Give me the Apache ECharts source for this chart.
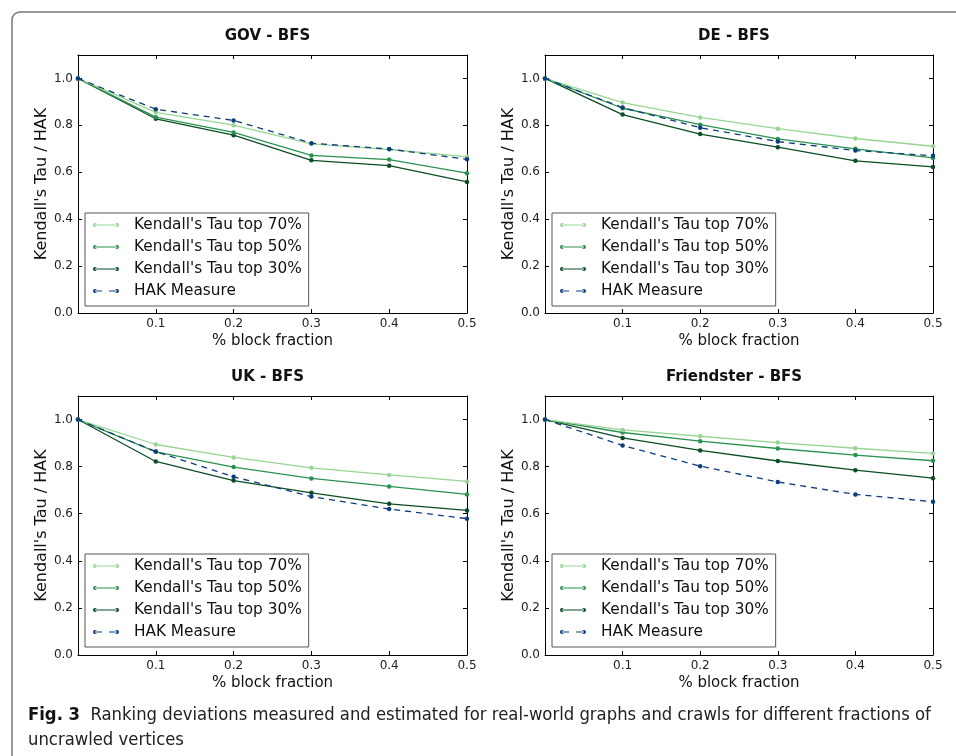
<!DOCTYPE html>
<html><head><meta charset="utf-8">
<script src="https://cdn.jsdelivr.net/npm/echarts@6/dist/echarts.min.js"></script>
<style>html,body{margin:0;padding:0;background:#fff}#c{width:956px;height:756px}</style>
</head><body><div id="c"></div>
<script>
var xs = [0, 0.1, 0.2, 0.3, 0.4, 0.5];
var seriesNames = ["Kendall's Tau top 70%", "Kendall's Tau top 50%", "Kendall's Tau top 30%", "HAK Measure"];
var panelTitles = ["GOV - BFS", "DE - BFS", "UK - BFS", "Friendster - BFS"];
var gov70 = [1, 0.855, 0.801, 0.721, 0.697, 0.666];
var gov50 = [1, 0.835, 0.770, 0.672, 0.654, 0.596];
var gov30 = [1, 0.828, 0.758, 0.651, 0.628, 0.559];
var govHak = [1, 0.869, 0.821, 0.724, 0.699, 0.655];
var de70 = [1, 0.897, 0.834, 0.786, 0.744, 0.711];
var de50 = [1, 0.873, 0.803, 0.742, 0.700, 0.661];
var de30 = [1, 0.846, 0.763, 0.707, 0.649, 0.623];
var deHak = [1, 0.876, 0.790, 0.731, 0.693, 0.670];
var uk70 = [1, 0.894, 0.839, 0.795, 0.765, 0.737];
var uk50 = [1, 0.863, 0.798, 0.750, 0.716, 0.682];
var uk30 = [1, 0.822, 0.741, 0.689, 0.642, 0.614];
var ukHak = [1, 0.864, 0.757, 0.673, 0.620, 0.579];
var fr70 = [1, 0.956, 0.929, 0.902, 0.878, 0.856];
var fr50 = [1, 0.945, 0.908, 0.877, 0.849, 0.825];
var fr30 = [1, 0.922, 0.869, 0.824, 0.785, 0.751];
var frHak = [1, 0.890, 0.802, 0.735, 0.682, 0.651];
var panels = [[gov70, gov50, gov30, govHak], [de70, de50, de30, deHak], [uk70, uk50, uk30, ukHak], [fr70, fr50, fr30, frHak]];

var colors = ['#98d594', '#2a9250', '#0b4d24', '#0c3d7e'];
var font = 'DejaVu Sans';
var grids = [
  {left: 78, top: 55, width: 389, height: 258},
  {left: 545, top: 55, width: 388, height: 258},
  {left: 78, top: 396, width: 389, height: 259},
  {left: 545, top: 396, width: 388, height: 259}
];
var iconSolid = 'path://M0,2a2,2 0 1,0 4,0a2,2 0 1,0 -4,0Z M22,2a2,2 0 1,0 4,0a2,2 0 1,0 -4,0Z M2,1.45L24,1.45L24,2.55L2,2.55Z';
var iconDash = 'path://M0,2a2,2 0 1,0 4,0a2,2 0 1,0 -4,0Z M22,2a2,2 0 1,0 4,0a2,2 0 1,0 -4,0Z M2,1.45L9,1.45L9,2.55L2,2.55Z M16,1.45L24,1.45L24,2.55L16,2.55Z';

var xAxes = [], yAxes = [], series = [], titles = [], legends = [];
grids.forEach(function (g, i) {
  var axLine = {show: true, onZero: false, lineStyle: {color: '#000', width: 1}};
  var tick = {show: true, inside: true, length: 4, lineStyle: {color: '#000', width: 1}};
  xAxes.push({gridIndex: i, type: 'value', min: 0, max: 0.5, interval: 0.1, position: 'bottom',
    axisLine: axLine, axisTick: tick, splitLine: {show: false},
    axisLabel: {color: '#222', fontFamily: font, fontSize: 12, margin: 5,
      formatter: function (v) { return v < 0.05 ? '' : v.toFixed(1); }},
    name: '% block fraction', nameLocation: 'middle', nameGap: 21,
    nameTextStyle: {fontFamily: font, fontSize: 15, color: '#111'}});
  xAxes.push({gridIndex: i, type: 'value', min: 0, max: 0.5, interval: 0.1, position: 'top',
    axisLine: axLine, axisTick: tick, axisLabel: {show: false}, splitLine: {show: false}});
  yAxes.push({gridIndex: i, type: 'value', min: 0, max: 1.1, interval: 0.2, position: 'left',
    axisLine: axLine, axisTick: tick, splitLine: {show: false},
    axisLabel: {color: '#222', fontFamily: font, fontSize: 12, margin: 5,
      formatter: function (v) { return v > 1.05 ? '' : v.toFixed(1); }},
    name: "Kendall's Tau / HAK", nameLocation: 'middle', nameGap: 28,
    nameTextStyle: {fontFamily: font, fontSize: 16, color: '#111'}});
  yAxes.push({gridIndex: i, type: 'value', min: 0, max: 1.1, interval: 0.2, position: 'right',
    axisLine: axLine, axisTick: tick, axisLabel: {show: false}, splitLine: {show: false}});
  titles.push({text: panelTitles[i], left: g.left + g.width / 2 - 10, top: g.top - 31, textAlign: 'center',
    textStyle: {fontFamily: font, fontSize: 15, fontWeight: 'bold', color: '#111'}});
  legends.push({left: g.left + 7, top: g.top + 158, orient: 'vertical', selectedMode: false,
    backgroundColor: '#fff', borderColor: '#555', borderWidth: 1, borderRadius: 0,
    padding: [4, 7, 7, 8], itemWidth: 26, itemHeight: 4, itemGap: 6,
    textStyle: {fontFamily: font, fontSize: 15.3, color: '#111', lineHeight: 16, padding: [0, 0, 0, 10]},
    data: seriesNames.map(function (n, k) { return {name: n, icon: k === 3 ? iconDash : iconSolid}; })});
  panels[i].forEach(function (vals, k) {
    series.push({name: seriesNames[k], type: 'line', xAxisIndex: 2 * i, yAxisIndex: 2 * i,
      data: xs.map(function (x, j) { return [x, vals[j]]; }),
      symbol: 'circle', symbolSize: 4.5, showSymbol: true, animation: false,
      z: k === 3 ? 5 : 4 - k,
      lineStyle: {color: colors[k], width: 1.3, type: k === 3 ? [6, 5] : 'solid'},
      itemStyle: {color: colors[k]}});
  });
});

var chart = echarts.init(document.getElementById('c'), null, {renderer: 'canvas'});
chart.setOption({
  animation: false,
  backgroundColor: '#fff',
  title: titles,
  legend: legends,
  grid: grids,
  xAxis: xAxes,
  yAxis: yAxes,
  series: series,
  graphic: [
    {type: 'rect', shape: {x: 12, y: 12, width: 980, height: 800, r: 8}, silent: true, z: -10,
      style: {fill: 'none', stroke: '#777', lineWidth: 1.5}},
    {type: 'text', left: 28, top: 703, silent: true,
      style: {text: '{b|Fig. 3}  Ranking deviations measured and estimated for real-world graphs and crawls for different fractions of\nuncrawled vertices',
        font: '18.3px "DejaVu Sans Condensed", "Liberation Sans Narrow", sans-serif', fill: '#222', lineHeight: 25,
        rich: {b: {fontWeight: 'bold', fontFamily: 'DejaVu Sans Condensed', fontSize: 18.3, fill: '#111'}}}}
  ]
});
</script></body></html>
